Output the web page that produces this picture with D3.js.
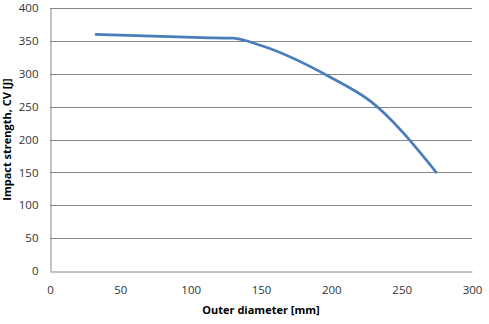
<!DOCTYPE html>
<html><head><meta charset="utf-8">
<script src="https://cdn.jsdelivr.net/npm/d3@7"></script>
<style>body{margin:0;background:#fff;} text{font-family:"Open Sans","Liberation Sans",sans-serif;}</style>
</head><body><svg id="c" width="489" height="324"></svg>
<script>
const diameters = [32, 108, 130, 150, 200, 228, 275];
const impact = [360, 355, 354, 343, 294, 258, 149];
const xTicks = [0, 50, 100, 150, 200, 250, 300];
const yTicks = [0, 50, 100, 150, 200, 250, 300, 350, 400];
const xTitle = "Outer diameter [mm]";
const yTitle = "Impact strength, CV [J]";

const svg = d3.select("#c");
const m = {l: 50, r: 17, t: 8, b: 53};
const W = 489, H = 324;
const x = d3.scaleLinear().domain([0, 300]).range([m.l, W - m.r]);
const y = d3.scaleLinear().domain([0, 400]).range([H - m.b, m.t]);

svg.append("g").selectAll("line").data(yTicks.filter(d => d > 0)).join("line")
  .attr("x1", x(0)).attr("x2", x(300))
  .attr("y1", d => Math.round(y(d)) + 0.5).attr("y2", d => Math.round(y(d)) + 0.5)
  .attr("stroke", "#868686").attr("stroke-width", 1);

const xa = svg.append("g").attr("transform", `translate(0,${Math.round(y(0)) + 0.5})`)
  .call(d3.axisBottom(x).tickValues(xTicks).tickSize(0).tickPadding(14));
xa.select(".domain").attr("stroke", "#868686");
xa.selectAll("text").attr("font-size", 11.5).attr("fill", "#333");

const ya = svg.append("g").attr("transform", `translate(${Math.round(x(0)) + 0.5},0)`)
  .call(d3.axisLeft(y).tickValues(yTicks).tickSize(0).tickPadding(12));
ya.select(".domain").attr("stroke", "#868686");
ya.selectAll("text").attr("font-size", 11.5).attr("fill", "#333");

const pts = diameters.map((d, i) => [d, impact[i]]);
svg.append("path").datum(pts)
  .attr("d", d3.line().x(d => x(d[0])).y(d => y(d[1])).curve(d3.curveMonotoneX))
  .attr("fill", "none").attr("stroke", "#4a7ebb").attr("stroke-width", 2.75).attr("stroke-linecap", "butt");

svg.append("text").attr("x", (x(0) + x(300)) / 2).attr("y", 314).attr("text-anchor", "middle")
  .attr("font-size", 11).attr("font-weight", "bold").attr("fill", "#000").text(xTitle);
svg.append("text").attr("transform", `translate(11,${(y(0) + y(400)) / 2}) rotate(-90)`).attr("text-anchor", "middle")
  .attr("font-size", 11).attr("font-weight", "bold").attr("fill", "#000").text(yTitle);
</script></body></html>
